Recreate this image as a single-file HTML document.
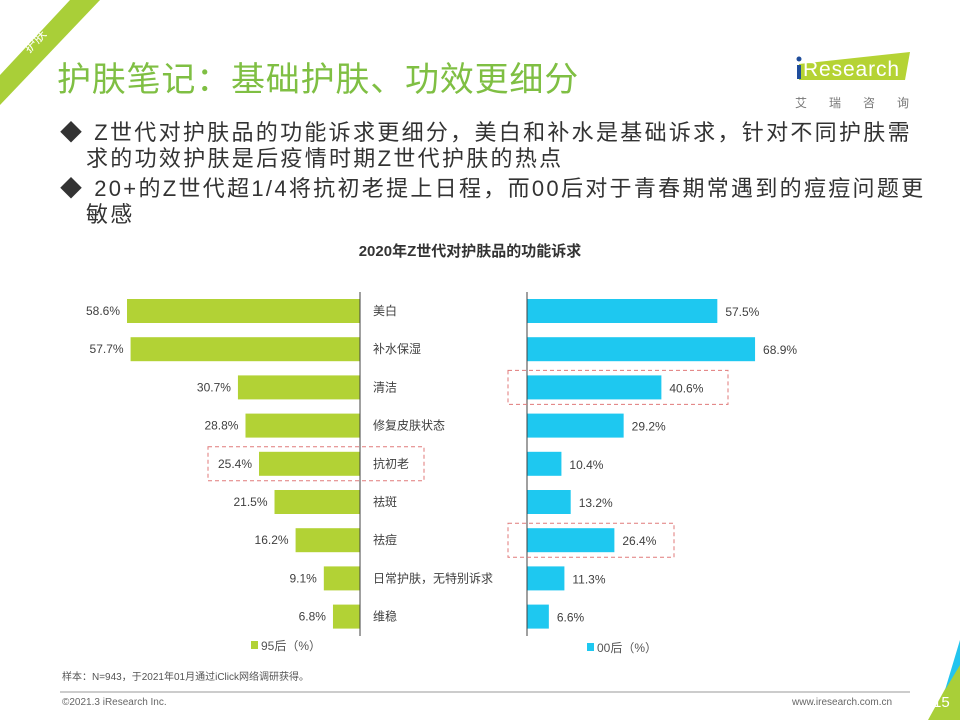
<!DOCTYPE html>
<html><head><meta charset="utf-8"><style>
body{margin:0;width:960px;height:720px;overflow:hidden;background:#fff;font-family:"Liberation Sans","Noto Sans CJK SC",sans-serif;position:relative}
.abs{position:absolute}
</style></head><body>
<svg class="abs" style="left:0;top:0" width="960" height="720">
<polygon points="0,75 70,0 100,0 0,105" fill="#a9cf38"/>
<text x="38" y="44" transform="rotate(-47 38 44)" font-size="13" fill="#fff" text-anchor="middle">护肤</text>
<line x1="60" y1="692" x2="910" y2="692" stroke="#999" stroke-width="1"/>
<polygon points="928,720 960,662 960,720" fill="#a9cf38"/>
<polygon points="945,690 960,665 960,640" fill="#22c4ee"/>
<polygon points="799,64 910,52 905,80 799,80" fill="#b5d334"/>
<text x="803" y="76" font-size="21" fill="#fff" font-family="Liberation Sans" textLength="96">Research</text>
<rect x="797" y="65" width="4" height="14" fill="#1f4d9b"/>
<circle cx="799" cy="59" r="2.5" fill="#1f4d9b"/>
<text x="795" y="107" font-size="12" fill="#777" letter-spacing="22">艾瑞咨询</text>
</svg>
<div class="abs" style="left:57px;top:52px;font-size:34px;letter-spacing:0.8px;color:#7fbf43">护肤笔记：基础护肤、功效更细分</div>
<div class="abs" style="left:60px;top:120px;font-size:22px;letter-spacing:2.3px;line-height:26px;color:#333;white-space:nowrap">
<div style="margin-bottom:4px"><span style="letter-spacing:0">◆&nbsp; </span>Z世代对护肤品的功能诉求更细分，美白和补水是基础诉求，针对不同护肤需<br><span style="padding-left:26px">求的功效护肤是后疫情时期Z世代护肤的热点</span></div>
<div><span style="letter-spacing:0">◆&nbsp; </span>20+的Z世代超1/4将抗初老提上日程，而00后对于青春期常遇到的痘痘问题更<br><span style="padding-left:26px">敏感</span></div>
</div>
<div class="abs" style="left:0;width:940px;top:240px;text-align:center;font-size:15px;font-weight:bold;color:#333">2020年Z世代对护肤品的功能诉求</div>
<svg id="chart" class="abs" style="left:0;top:0" width="960" height="720"></svg>
<div class="abs" style="left:62px;top:668px;font-size:10px;color:#555">样本：N=943，于2021年01月通过iClick网络调研获得。</div>
<div class="abs" style="left:62px;top:697px;font-size:10px;color:#666">©2021.3 iResearch Inc.</div>
<div class="abs" style="left:792px;top:697px;font-size:10px;color:#666">www.iresearch.com.cn</div>
<div class="abs" style="left:933px;top:694px;font-size:15px;color:#fff">15</div>
<script>
const categories=["美白","补水保湿","清洁","修复皮肤状态","抗初老","祛斑","祛痘","日常护肤，无特别诉求","维稳"];
const gen95=[58.6,57.7,30.7,28.8,25.4,21.5,16.2,9.1,6.8];
const gen00=[57.5,68.9,40.6,29.2,10.4,13.2,26.4,11.3,6.6];
const NS="http://www.w3.org/2000/svg";
const svg=document.getElementById('chart');
const leftAxis=360,rightAxis=527,top0=311,step=38.2,bh=24;
const xl=v=>v*3.976, xr=v=>v*3.31, y=i=>top0+i*step;
function mk(t,a,txt){const e=document.createElementNS(NS,t);for(const k in a)e.setAttribute(k,a[k]);if(txt!=null)e.textContent=txt;svg.appendChild(e);return e;}
categories.forEach((c,i)=>{
 let r=mk('rect',{x:leftAxis-xl(gen95[i]),y:y(i)-bh/2,width:xl(gen95[i]),height:bh,fill:'#b2d235'});
 
 
 let t=mk('text',{x:leftAxis-xl(gen95[i])-7,y:y(i)+4,'font-size':12,fill:'#404040','text-anchor':'end'},gen95[i].toFixed(1)+'%');
 
 
 let r2=mk('rect',{x:rightAxis,y:y(i)-bh/2,width:xr(gen00[i]),height:bh,fill:'#1ec8f0'});
 
 
 let t2=mk('text',{x:rightAxis+xr(gen00[i])+8,y:y(i)+5,'font-size':12,fill:'#404040'},gen00[i].toFixed(1)+'%');
 
 
 let ct=mk('text',{x:373,y:y(i)+4,'font-size':12,fill:'#404040'},c);
 
 
});
let a1=mk('line',{x1:leftAxis,x2:leftAxis,y1:292,y2:636,stroke:'#404040'});


let a2=mk('line',{x1:rightAxis,x2:rightAxis,y1:292,y2:636,stroke:'#404040'});


[[208,y(4)-17,216,34],[508,y(2)-17,220,34],[508,y(6)-17,166,34]].forEach((b,k)=>{
 let r=mk('rect',{x:b[0],y:b[1],width:b[2],height:b[3],fill:'none',stroke:'#e07a7a','stroke-dasharray':'4,3'});
 
 
});
let l1=mk('rect',{x:251,y:641,width:7,height:8,fill:'#b2d235'});


let l1t=mk('text',{x:261,y:650,'font-size':12,fill:'#555'},'95后（%）');


let l2=mk('rect',{x:587,y:643,width:7,height:8,fill:'#1ec8f0'});


let l2t=mk('text',{x:597,y:652,'font-size':12,fill:'#555'},'00后（%）');


</script>
</body></html>
